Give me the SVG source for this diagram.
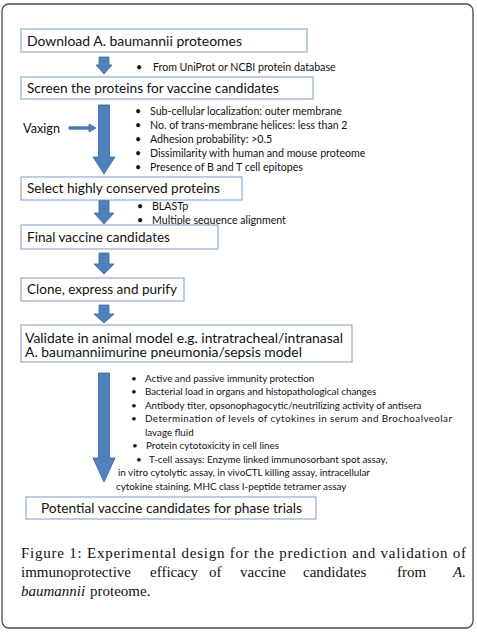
<svg xmlns="http://www.w3.org/2000/svg" width="477" height="632" viewBox="0 0 477 632">
<style>
.frame{fill:#fff;stroke:#4a4a4a;stroke-width:1.3}
.box{fill:#fff;stroke:#7f9dc6;stroke-width:1}
.arr{fill:#4f81bd;stroke:#3a6495;stroke-width:0.8}
.bt{font-family:Lato,"Liberation Sans",sans-serif;font-size:13px;fill:#111}
.li{font-family:Lato,"Liberation Sans",sans-serif;font-size:10.6px;fill:#111}
.l2{font-family:Lato,"Liberation Sans",sans-serif;font-size:9.8px;fill:#111}
.cap{font-family:"Liberation Serif",serif;font-size:15px;fill:#111}
</style>
<rect class="frame" x="2" y="4" width="471" height="624" rx="7"/>
<g id="connectors">
<path class="arr" d="M99,57 H109 V65 H112 L104,74 L96,65 H99 Z"/>
<path class="arr" d="M98.5,105 H109.5 V157 H115 L104,174 L93,157 H98.5 Z"/>
<path class="arr" d="M69,126.8 H89 V124 L96,128 L89,132 V129.2 H69 Z"/>
<path class="arr" d="M99,200 H109 V213 H114 L104,224 L94,213 H99 Z"/>
<path class="arr" d="M99,253 H109 V264 H114 L104,274 L94,264 H99 Z"/>
<path class="arr" d="M99,305 H109 V314 H114 L104,323 L94,314 H99 Z"/>
<path class="arr" d="M98.5,373 H109.5 V458 H115 L104,482 L93,458 H98.5 Z"/>
</g>
<g id="n1"><rect class="box" x="21" y="29" width="286" height="23"/><text class="bt" x="27" y="45.5" textLength="215" lengthAdjust="spacingAndGlyphs">Download A. baumannii  proteomes</text></g>
<g id="n1note"><text class="li" x="136" y="71">•</text><text class="li" x="153" y="71">From UniProt or NCBI protein database</text></g>
<g id="n2"><rect class="box" x="21" y="77" width="292" height="22"/><text class="bt" x="27" y="93" textLength="252" lengthAdjust="spacingAndGlyphs">Screen the proteins for vaccine candidates</text></g>
<g id="vaxign"><text class="bt" x="23" y="133" textLength="37" lengthAdjust="spacingAndGlyphs">Vaxign</text></g>
<g id="n2notes">
<text class="li" x="135" y="114.5">•</text><text class="li" x="150" y="114.5">Sub-cellular localization: outer membrane</text>
<text class="li" x="135" y="128.5">•</text><text class="li" x="150" y="128.5">No. of trans-membrane helices: less than 2</text>
<text class="li" x="135" y="142.5">•</text><text class="li" x="150" y="142.5">Adhesion probability: &gt;0.5</text>
<text class="li" x="135" y="156.5">•</text><text class="li" x="150" y="156.5">Dissimilarity with human and mouse proteome</text>
<text class="li" x="135" y="170.5">•</text><text class="li" x="150" y="170.5">Presence of B and T cell epitopes</text>
</g>
<g id="n3"><rect class="box" x="21" y="177" width="221" height="23"/><text class="bt" x="27" y="193" textLength="193" lengthAdjust="spacingAndGlyphs">Select highly conserved proteins</text></g>
<g id="n3notes">
<text class="li" x="137" y="209.5">•</text><text class="li" x="152" y="209.5">BLASTp</text>
<text class="li" x="137" y="223.5">•</text><text class="li" x="152" y="223.5">Multiple sequence alignment</text>
</g>
<g id="n4"><rect class="box" x="21" y="225" width="197" height="24"/><text class="bt" x="27" y="241.5" textLength="143" lengthAdjust="spacingAndGlyphs">Final vaccine candidates</text></g>
<g id="n5"><rect class="box" x="21" y="278" width="163" height="23"/><text class="bt" x="27" y="294" textLength="150" lengthAdjust="spacingAndGlyphs">Clone, express and purify</text></g>
<g id="n6"><rect class="box" x="21" y="325" width="331" height="37"/>
<text class="bt" x="25" y="342.5" textLength="318" lengthAdjust="spacingAndGlyphs">Validate in animal model e.g. intratracheal/intranasal</text>
<text class="bt" x="25" y="357" textLength="277" lengthAdjust="spacingAndGlyphs">A. baumanniimurine pneumonia/sepsis model</text></g>
<g id="n6notes">
<text class="l2" x="131" y="381.5">•</text><text class="l2" x="145" y="381.5">Active and passive immunity protection</text>
<text class="l2" x="131" y="395">•</text><text class="l2" x="145" y="395">Bacterial load in organs and histopathological changes</text>
<text class="l2" x="131" y="408.5">•</text><text class="l2" x="145" y="408.5">Antibody titer, opsonophagocytic/neutrilizing activity of antisera</text>
<text class="l2" x="131" y="422">•</text><text class="l2" x="145" y="422" textLength="307" lengthAdjust="spacing">Determination of levels of cytokines in serum and Brochoalveolar</text>
<text class="l2" x="145" y="435.5">lavage fluid</text>
<text class="l2" x="132" y="449">•</text><text class="l2" x="146" y="449">Protein cytotoxicity in cell lines</text>
<text class="l2" x="136" y="462.5">•</text><text class="l2" x="149" y="462.5">T-cell assays: Enzyme linked immunosorbant spot assay,</text>
<text class="l2" x="118" y="476">in vitro cytolytic assay, in vivoCTL killing assay, intracellular</text>
<text class="l2" x="116" y="489.5">cytokine staining, MHC class I-peptide tetramer assay</text>
</g>
<g id="n7"><rect class="box" x="26" y="497" width="290" height="22"/><text class="bt" x="41" y="512.5" textLength="261" lengthAdjust="spacingAndGlyphs">Potential vaccine candidates for phase trials</text></g>
<g id="caption">
<text class="cap" x="21" y="558" textLength="445" lengthAdjust="spacing">Figure 1: Experimental design for the prediction and validation of</text>
<text class="cap" y="577"><tspan x="21">immunoprotective</tspan><tspan x="150">efficacy</tspan><tspan x="209">of</tspan><tspan x="240">vaccine</tspan><tspan x="303">candidates</tspan><tspan x="397">from</tspan><tspan x="453" font-style="italic">A.</tspan></text>
<text class="cap" y="596"><tspan x="21" font-style="italic">baumannii</tspan><tspan x="90">proteome.</tspan></text>
</g>
</svg>
